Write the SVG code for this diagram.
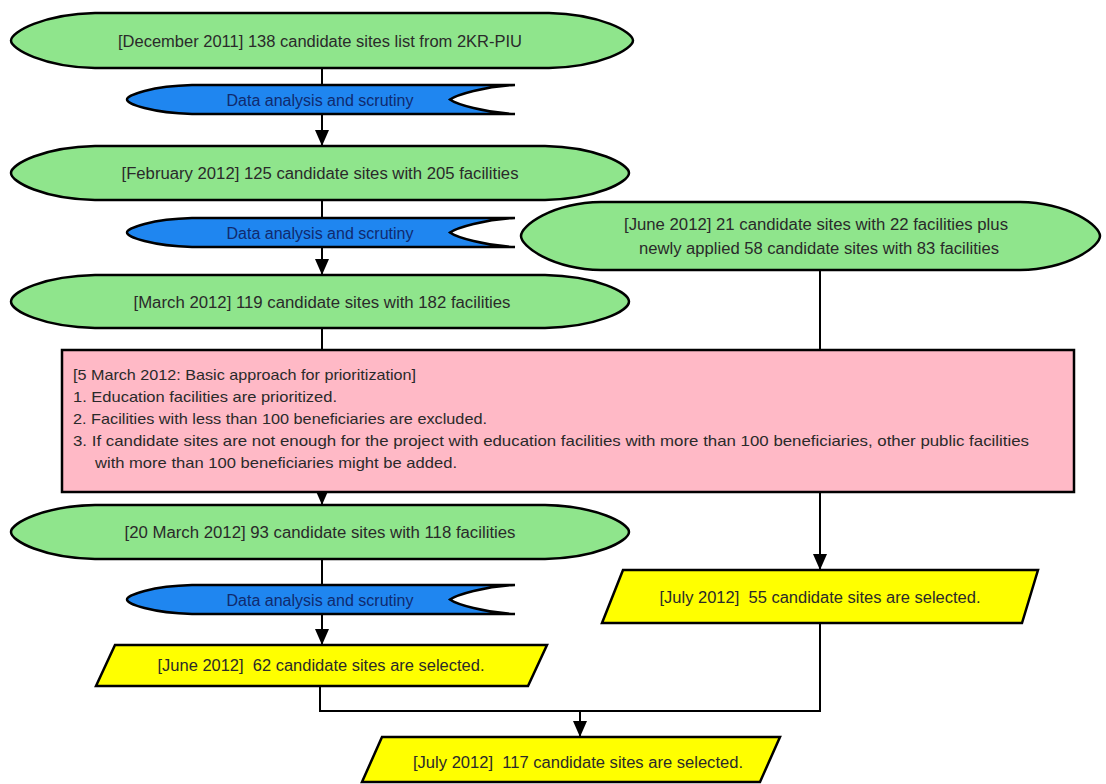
<svg xmlns="http://www.w3.org/2000/svg" width="1106" height="784" viewBox="0 0 1106 784">
<defs>
<marker id="ah" viewBox="0 0 16 14" refX="16" refY="7" markerWidth="16" markerHeight="14" markerUnits="userSpaceOnUse" orient="auto">
<path d="M0,0 L16,7 L0,14 Z" fill="#000"/>
</marker>
</defs>
<style>
.ell{fill:#8fe58c;stroke:#000;stroke-width:2.5}
.blu{fill:#1f86f0;stroke:#000;stroke-width:2.5}
.yel{fill:#ffff00;stroke:#000;stroke-width:2.5}
.pnk{fill:#ffb9c6;stroke:#000;stroke-width:2.5}
.t{font-family:"Liberation Sans",Arial,sans-serif;font-size:16px;fill:#2a2a2a;text-anchor:middle;dominant-baseline:central;white-space:pre}
.tb{font-family:"Liberation Sans",Arial,sans-serif;font-size:16px;fill:#102a6e;text-anchor:middle;dominant-baseline:central}
.tp{font-family:"Liberation Sans",Arial,sans-serif;font-size:15px;fill:#2a2a2a;dominant-baseline:central}
.c{fill:none;stroke:#000;stroke-width:2}
</style>
<rect width="1106" height="784" fill="#fff"/>

<g id="connectors">
<line class="c" x1="322" y1="68" x2="322" y2="85"/>
<line class="c" x1="322" y1="114" x2="322" y2="146" marker-end="url(#ah)"/>
<line class="c" x1="322" y1="200" x2="322" y2="218"/>
<line class="c" x1="322" y1="247" x2="322" y2="275" marker-end="url(#ah)"/>
<line class="c" x1="322" y1="328" x2="322" y2="350"/>
<line class="c" x1="322" y1="492" x2="322" y2="505" marker-end="url(#ah)"/>
<line class="c" x1="322" y1="559" x2="322" y2="585"/>
<line class="c" x1="322" y1="614" x2="322" y2="645" marker-end="url(#ah)"/>
<polyline class="c" points="320,686 320,711 820,711 820,623"/>
<line class="c" x1="820" y1="270" x2="820" y2="350"/>
<line class="c" x1="820" y1="492" x2="820" y2="570" marker-end="url(#ah)"/>
<line class="c" x1="580" y1="711" x2="580" y2="737" marker-end="url(#ah)"/>
</g>

<g id="n_dec2011">
<path class="ell" d="M95,13 H549 C600,14 633,32 633,40.5 C633,49 600,67 549,68 H95 C44,67 11,49 11,40.5 C11,32 44,14 95,13 Z"/>
<text class="t" x="320" y="41" textLength="404" lengthAdjust="spacingAndGlyphs">[December 2011] 138 candidate sites list from 2KR-PIU</text>
</g>

<g id="n_scrutiny1">
<path class="blu" d="M192,85 H515 C485,86 456,95 450,99.5 C456,104 485,113 515,114 H192 C152,113 127,104 127,99.5 C127,95 152,86 192,85 Z"/>
<text class="tb" x="320" y="100" textLength="187" lengthAdjust="spacingAndGlyphs">Data analysis and scrutiny</text>
</g>

<g id="n_feb2012">
<path class="ell" d="M95,146 H545 C596,147 629,164 629,173 C629,182 596,199 545,200 H95 C44,199 11,182 11,173 C11,164 44,147 95,146 Z"/>
<text class="t" x="320" y="173" textLength="397" lengthAdjust="spacingAndGlyphs">[February 2012] 125 candidate sites with 205 facilities</text>
</g>

<g id="n_scrutiny2">
<path class="blu" d="M192,218 H515 C485,219 456,228 450,232.5 C456,237 485,246 515,247 H192 C152,246 127,237 127,232.5 C127,228 152,219 192,218 Z"/>
<text class="tb" x="320" y="233" textLength="187" lengthAdjust="spacingAndGlyphs">Data analysis and scrutiny</text>
</g>

<g id="n_jun2012_new">
<path class="ell" d="M601,202 H1020 C1070,203 1100,226 1100,236 C1100,246 1070,269 1020,270 H601 C551,269 521,246 521,236 C521,226 551,203 601,202 Z"/>
<text class="t" x="816" y="224" textLength="384" lengthAdjust="spacingAndGlyphs">[June 2012] 21 candidate sites with 22 facilities plus</text>
<text class="t" x="819" y="248" textLength="360" lengthAdjust="spacingAndGlyphs">newly applied 58 candidate sites with 83 facilities</text>
</g>

<g id="n_mar2012">
<path class="ell" d="M95,275 H545 C596,276 629,292 629,301.5 C629,311 596,327 545,328 H95 C44,327 11,311 11,301.5 C11,292 44,276 95,275 Z"/>
<text class="t" x="322" y="302" textLength="377" lengthAdjust="spacingAndGlyphs">[March 2012] 119 candidate sites with 182 facilities</text>
</g>

<g id="n_approach">
<rect class="pnk" x="62" y="350" width="1012" height="142"/>
<text class="tp" x="73" y="374" textLength="343" lengthAdjust="spacingAndGlyphs">[5 March 2012: Basic approach for prioritization]</text>
<text class="tp" x="73" y="396" textLength="264" lengthAdjust="spacingAndGlyphs">1. Education facilities are prioritized.</text>
<text class="tp" x="73" y="418" textLength="414" lengthAdjust="spacingAndGlyphs">2. Facilities with less than 100 beneficiaries are excluded.</text>
<text class="tp" x="73" y="440" textLength="956" lengthAdjust="spacingAndGlyphs">3. If candidate sites are not enough for the project with education facilities with more than 100 beneficiaries, other public facilities</text>
<text class="tp" x="95" y="462" textLength="362" lengthAdjust="spacingAndGlyphs">with more than 100 beneficiaries might be added.</text>
</g>

<g id="n_20mar2012">
<path class="ell" d="M95,505 H545 C596,506 629,523 629,532 C629,541 596,558 545,559 H95 C44,558 11,541 11,532 C11,523 44,506 95,505 Z"/>
<text class="t" x="320" y="532" textLength="391" lengthAdjust="spacingAndGlyphs">[20 March 2012] 93 candidate sites with 118 facilities</text>
</g>

<g id="n_scrutiny3">
<path class="blu" d="M192,585 H515 C485,586 456,595 450,599.5 C456,604 485,613 515,614 H192 C152,613 127,604 127,599.5 C127,595 152,586 192,585 Z"/>
<text class="tb" x="320" y="600" textLength="187" lengthAdjust="spacingAndGlyphs">Data analysis and scrutiny</text>
</g>

<g id="n_jun2012_sel">
<polygon class="yel" points="115,645 547,645 528,686 96,686"/>
<text class="t" x="321" y="665" textLength="327" lengthAdjust="spacingAndGlyphs">[June 2012]  62 candidate sites are selected.</text>
</g>

<g id="n_jul2012_55">
<polygon class="yel" points="623,570 1038,570 1022,623 602,623"/>
<text class="t" x="820" y="597" textLength="321" lengthAdjust="spacingAndGlyphs">[July 2012]  55 candidate sites are selected.</text>
</g>

<g id="n_jul2012_117">
<polygon class="yel" points="382,737 780,737 760,782 362,782"/>
<text class="t" x="578" y="762" textLength="330" lengthAdjust="spacingAndGlyphs">[July 2012]  117 candidate sites are selected.</text>
</g>
</svg>
